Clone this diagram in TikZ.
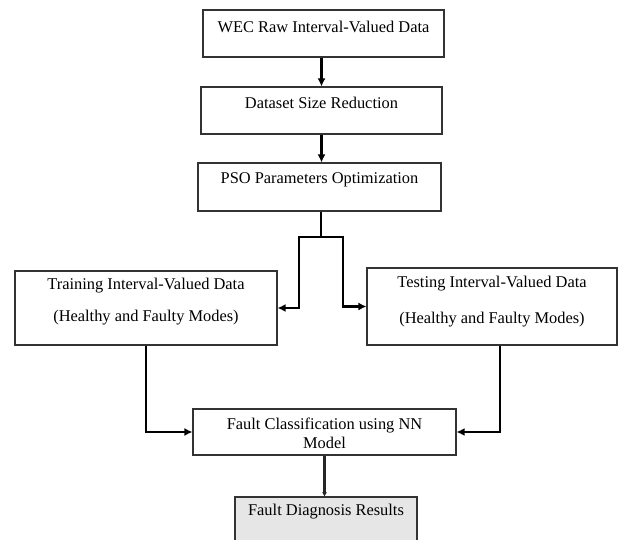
\documentclass[tikz,border=0pt]{standalone}
\usepackage{fontspec}
\setmainfont{Liberation Serif}
\usetikzlibrary{arrows.meta}
\definecolor{boxline}{HTML}{333333}
\definecolor{diagfill}{HTML}{E6E6E6}
\tikzset{
  flowbox/.style={draw=boxline, line width=1.1pt, rectangle, inner sep=0pt},
  boxtext/.style={inner sep=0pt, font=\fontsize{16.4}{18}\selectfont, align=center},
  flowarrow/.style={line width=2.2pt, -{Latex[length=8pt,width=8pt]}},
}
\begin{document}
\begin{tikzpicture}[x=1pt,y=-1pt]
\useasboundingbox (0,0) rectangle (619,540);
% boxes (x1,y1) to (x2,y2)
\node[flowbox, minimum width=241pt, minimum height=47pt] (box1) at (323.5,33.5) {};
\node[boxtext] (t1) at (323.5,27) {WEC Raw Interval-Valued Data};
\node[flowbox, minimum width=241pt, minimum height=47pt] (box2) at (321.5,110.5) {};
\node[boxtext] (t2) at (321.5,103) {Dataset Size Reduction};
\node[flowbox, minimum width=243pt, minimum height=48pt] (box3) at (319.5,187) {};
\node[boxtext] (t3) at (319.5,180) {PSO Parameters Optimization};
\node[flowbox, minimum width=262pt, minimum height=74pt] (train) at (146,308) {};
\node[boxtext] (t4a) at (146,286) {Training Interval-Valued Data};
\node[boxtext] (t4b) at (146,318) {(Healthy and Faulty Modes)};
\node[flowbox, minimum width=250pt, minimum height=77pt] (test) at (492,306.5) {};
\node[boxtext] (t5a) at (492,284) {Testing Interval-Valued Data};
\node[boxtext] (t5b) at (492,320) {(Healthy and Faulty Modes)};
\node[flowbox, minimum width=263pt, minimum height=46pt] (fc) at (324.5,432) {};
\node[boxtext] (t6a) at (324.5,425) {Fault Classification using NN};
\node[boxtext] (t6b) at (324.5,443) {Model};
\node[flowbox, fill=diagfill, minimum width=182pt, minimum height=70pt] (diag) at (326,532) {};
\node[boxtext] (t7) at (326,512) {Fault Diagnosis Results};
% connectors
\draw[flowarrow] (box1.south -| box2.north) -- (box2.north);
\draw[flowarrow] (box2.south) -- (box2.south |- box3.north);
\coordinate (j) at (321,237);
\coordinate (jl) at (299,237);
\coordinate (jr) at (343,237);
\draw[line width=2.2pt] (box3.south -| j) -- (j);
\draw[flowarrow] (j) -- (jl) -- (jl |- train.east) -- (train.east);
\draw[flowarrow] (j) -- (jr) -- (jr |- test.west) -- (test.west);
\draw[flowarrow] (train.south) |- (fc.west);
\draw[flowarrow] ([xshift=8pt]test.south) |- (fc.east);
\draw[line width=3pt, draw=black!85, -{Latex[length=4pt,width=5pt]}] (fc.south) -- (fc.south |- diag.north);
\end{tikzpicture}
\end{document}
